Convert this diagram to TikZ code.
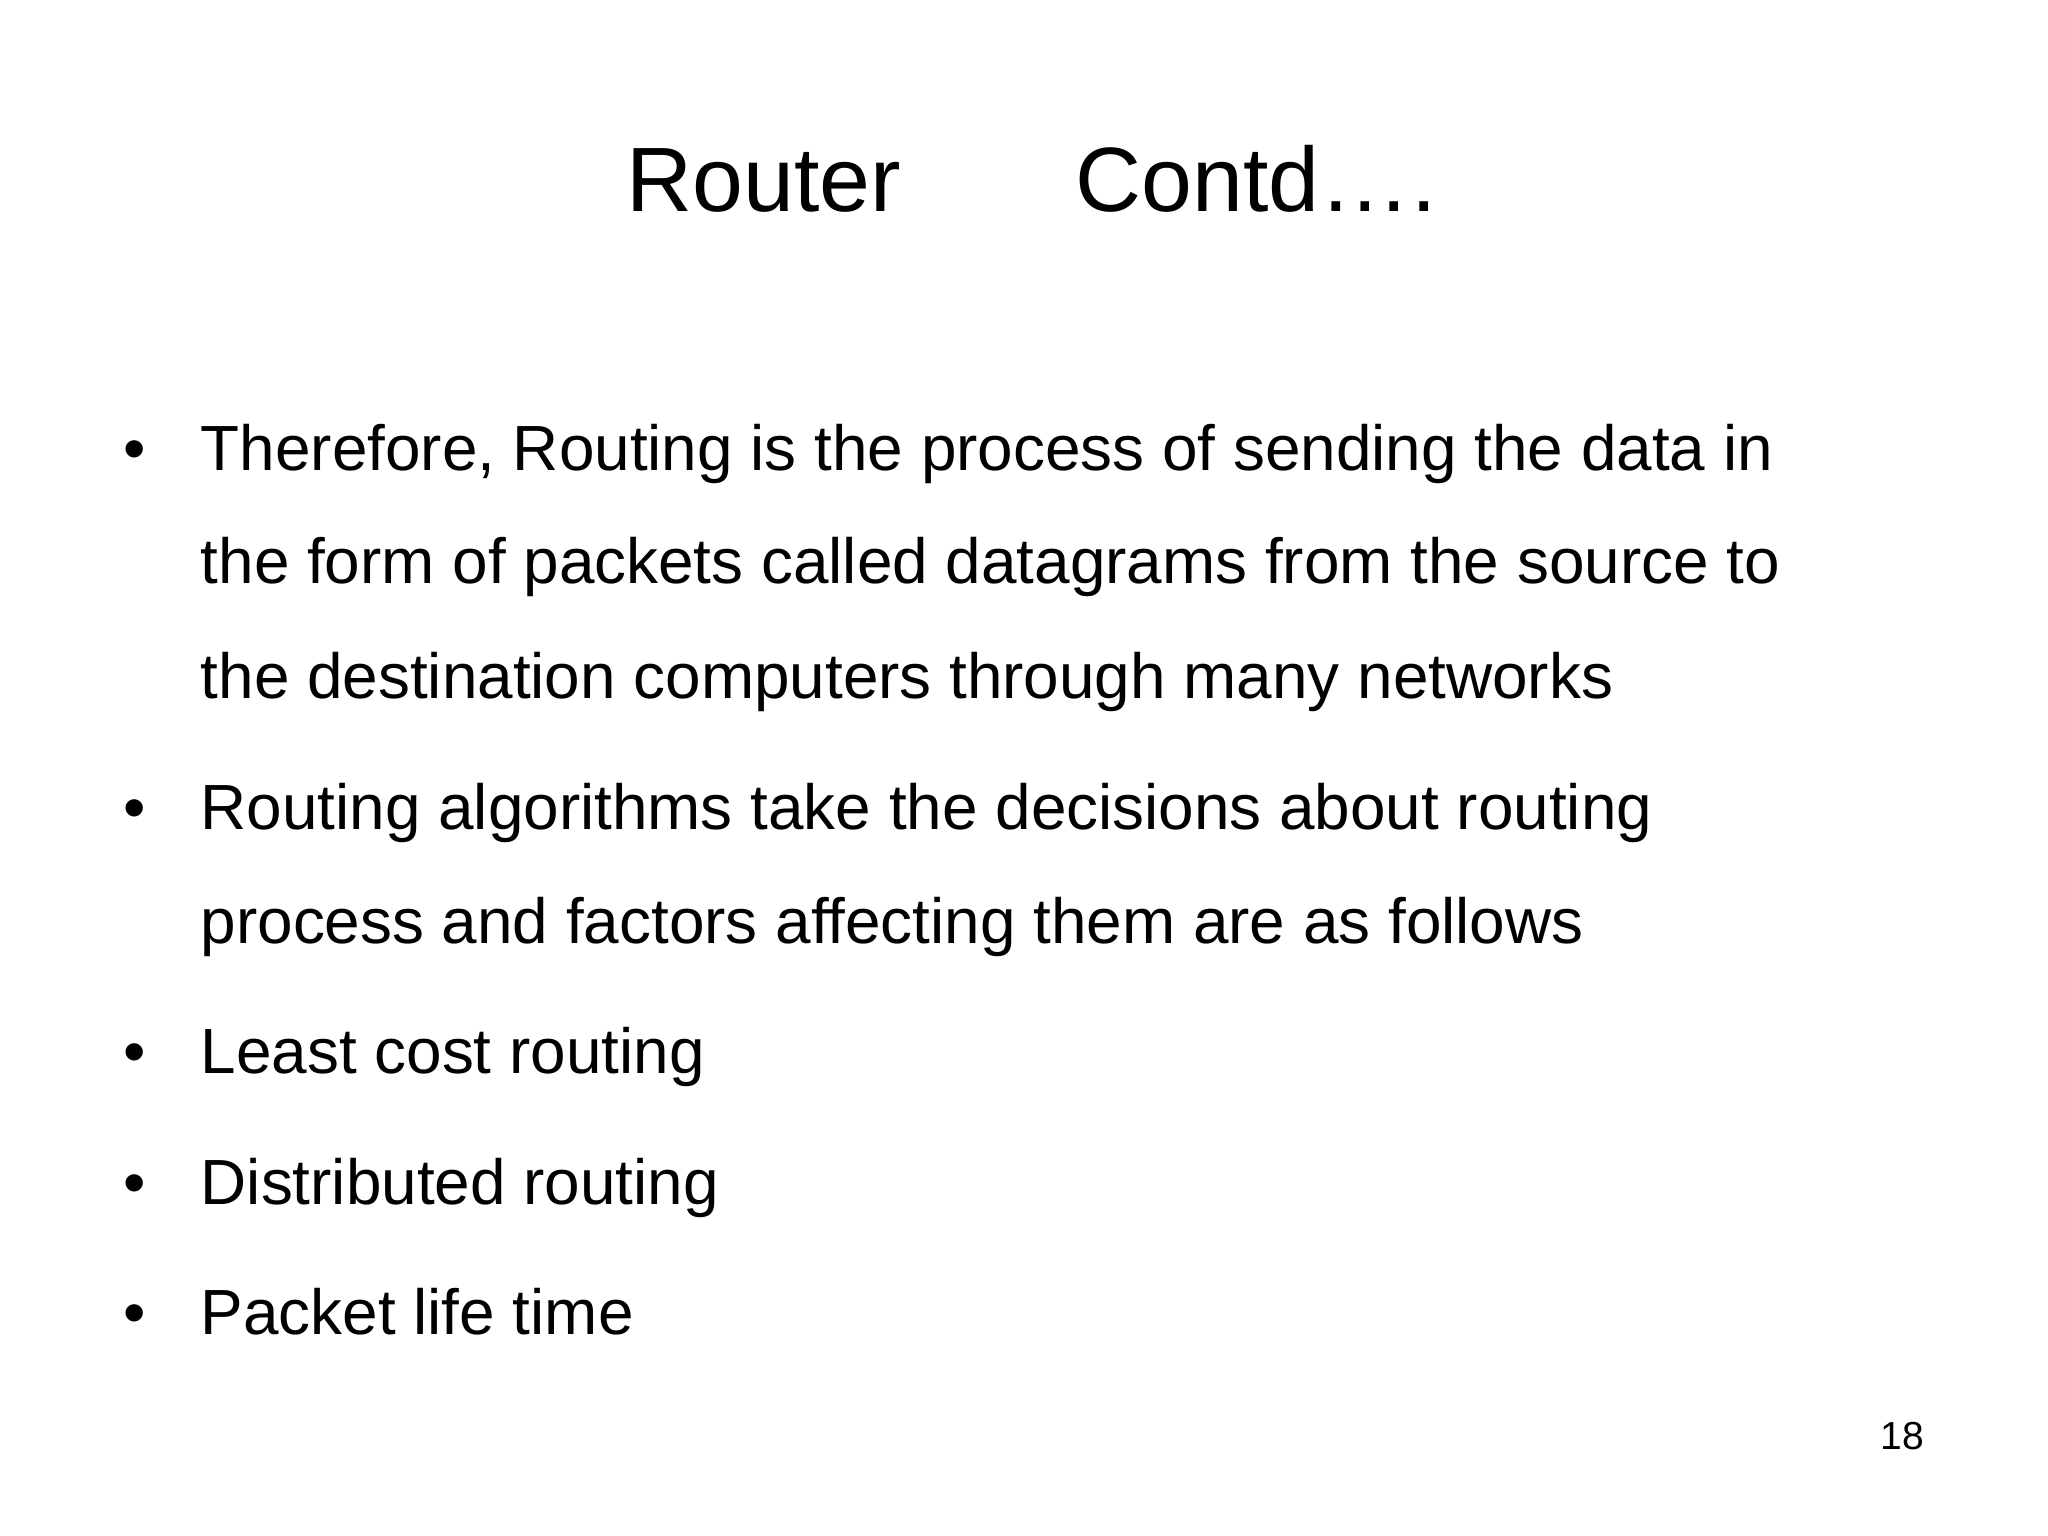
\documentclass[tikz,border=0pt]{standalone}
\usepackage{fontspec}
\setmainfont{Liberation Sans}
\begin{document}
\begin{tikzpicture}[x=0.01cm,y=-0.01cm,
  body/.style={anchor=base west,inner sep=0pt,font=\fontsize{13.9pt}{16pt}\selectfont},
  bul/.style={anchor=base,inner sep=0pt,font=\fontsize{13.9pt}{16pt}\selectfont}]
\useasboundingbox (0,0) rectangle (1568,1176);
\node[anchor=base west,inner sep=0pt,font=\fontsize{19.9pt}{22pt}\selectfont] (t1) at (479,162) {Router};
\node[anchor=base west,inner sep=0pt,font=\fontsize{19.9pt}{22pt}\selectfont] (t2) at (823,162) {Contd….};
\foreach \n/\y/\t in {a/360/{Therefore, Routing is the process of sending the data in},
  b/447/{the form of packets called datagrams from the source to},
  c/535/{the destination computers through many networks},
  d/635/{Routing algorithms take the decisions about routing},
  e/722/{process and factors affecting them are as follows},
  f/822/{Least cost routing},
  g/922/{Distributed routing},
  h/1022/{Packet life time}}
  \node[body] (\n) at (153,\y) {\t};
\foreach \n/\y in {ba/360,bd/635,bf/822,bg/922,bh/1022}
  \node[bul] (\n) at (103,\y) {•};
\node[anchor=base east,inner sep=0pt,font=\fontsize{8.5pt}{10pt}\selectfont] (pg) at (1474,1110) {18};
\end{tikzpicture}
\end{document}
